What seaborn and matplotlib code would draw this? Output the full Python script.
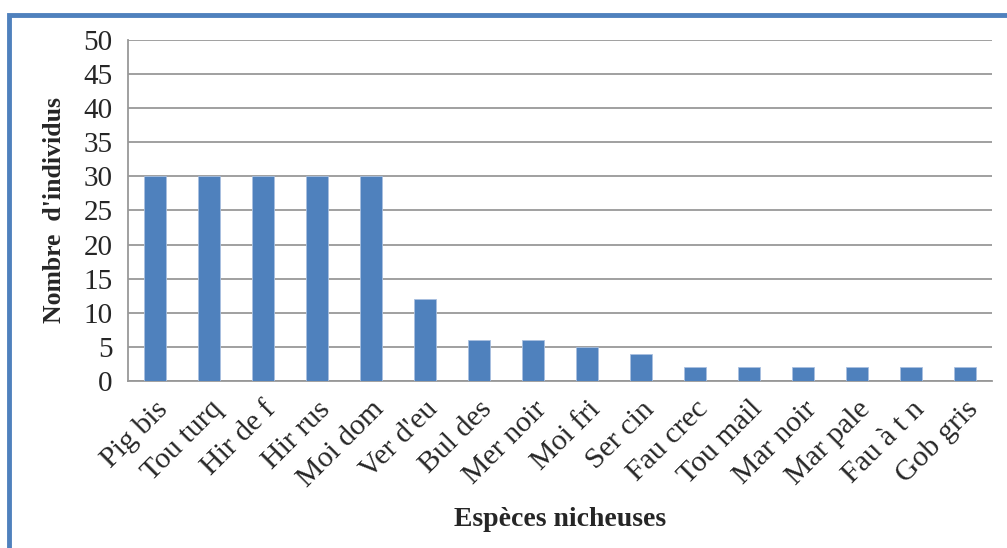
import matplotlib
matplotlib.use("Agg")
import matplotlib.pyplot as plt
import seaborn as sns
import pandas as pd
from matplotlib.patches import Rectangle
from matplotlib.ticker import MultipleLocator, FixedLocator

species = ["Pig bis", "Tou turq", "Hir de f", "Hir rus", "Moi dom", "Ver d'eu",
           "Bul des", "Mer noir", "Moi fri", "Ser cin", "Fau crec", "Tou mail",
           "Mar noir", "Mar pale", "Fau à t n", "Gob gris"]
counts = [30, 30, 30, 30, 30, 12, 6, 6, 5, 4, 2, 2, 2, 2, 2, 2]

df = pd.DataFrame({"species": species, "count": counts})

sns.set_style("white")
plt.rcParams["font.family"] = ["Liberation Serif", "DejaVu Serif"]

fig = plt.figure(figsize=(10.07, 5.48), dpi=100)
ax = fig.add_axes([0.127, 0.305, 0.858, 0.622])

sns.barplot(data=df, x="species", y="count", color="#4F81BD", saturation=1,
            width=0.4, ax=ax, zorder=3, edgecolor="#A9C0E0", linewidth=0.6)

grid_c = "#989898"
ax.set_ylim(0, 50)
ax.set_xlim(-0.5, len(species) - 0.5)
ax.yaxis.set_major_locator(MultipleLocator(5))
ax.grid(axis="y", color=grid_c, linewidth=1.3, zorder=0)
for s in ["top", "right"]:
    ax.spines[s].set_visible(False)
for s in ["left", "bottom"]:
    ax.spines[s].set_color(grid_c)
    ax.spines[s].set_linewidth(1.3)

ax.tick_params(axis="y", which="major", length=8, width=1.3, color=grid_c,
               labelsize=21, pad=3)
ax.tick_params(axis="x", which="major", length=0, labelsize=21.5, pad=11)
ax.xaxis.set_minor_locator(FixedLocator([i - 0.5 for i in range(len(species) + 1)]))
ax.tick_params(axis="x", which="minor", length=8, width=1.3, color=grid_c)
plt.setp(ax.get_xticklabels(), rotation=45, ha="right", rotation_mode="anchor")

ax.set_xlabel("Espèces nicheuses", fontsize=20, fontweight="bold")
ax.set_ylabel("Nombre  d'individus", fontsize=18.5, fontweight="bold")
ax.xaxis.set_label_coords(0.5, -0.37)
ax.yaxis.set_label_coords(-0.072, 0.5)

border = Rectangle((9 / 1007, -0.1), 1.2, 1 - 15 / 548 + 0.1,
                   transform=fig.transFigure, fill=False,
                   edgecolor="#4F81BD", linewidth=3.5, clip_on=False)
fig.patches.append(border)

fig.savefig("out.png", dpi=100)
